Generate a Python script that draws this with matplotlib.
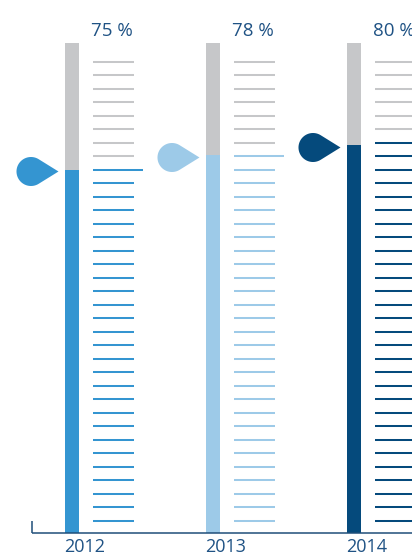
import numpy as np
import matplotlib
matplotlib.use("Agg")
import matplotlib.pyplot as plt
from matplotlib.path import Path

# ---- data ----
years = ["2012", "2013", "2014"]
values = [75, 78, 80]
value_labels = ["75 %", "78 %", "80 %"]

# ---- style ----
bar_colors = ["#3495d1", "#9dcae8", "#054a7c"]
grey = "#c6c7c9"
text_color = "#1f5284"
axis_color = "#1f4e79"

W, H, DPI = 412, 555, 100
fig = plt.figure(figsize=(W / DPI, H / DPI), dpi=DPI)

# axes spanning the figure; y: 0 at px 533, top of axes at px 43
y0_px, ytop_px = 533, 43
px_per_unit = 4.845
ax = fig.add_axes([0, (H - y0_px) / H, 1, (y0_px - ytop_px) / H])
step_px = 141.0
first_px = 71.7
ax.set_xlim(-first_px / step_px, (W - first_px) / step_px)
ax.set_ylim(0, (y0_px - ytop_px) / px_per_unit)
ax.axis("off")
px = 1.0 / step_px       # one pixel in x data units
py = 1.0 / px_per_unit   # one pixel in y data units
ytop = ax.get_ylim()[1]

x = np.arange(len(years))
bw = 14 * px

# grey full-height bars and coloured value bars
ax.bar(x, [ytop] * len(x), width=bw, color=grey, zorder=1)
ax.bar(x, values, width=bw, color=bar_colors, zorder=2)

# decorative scale lines
scale = np.linspace(2.54, 97.28, 35)
for xi, v, c in zip(x, values, bar_colors):
    coloured = scale[scale <= v + 1.0]
    top_line = coloured.max()
    for s in scale:
        col = c if s <= v + 1.0 else grey
        x1 = xi + 21 * px
        x2 = xi + (71 if s == top_line else 62) * px
        ax.plot([x1, x2], [s, s], color=col, lw=1.45, solid_capstyle="butt", zorder=2)

# droplet marker (tip at origin, pointing right)
d, r = 27.5, 14.5
th = np.arccos(r / d)
angles = np.linspace(th, 2 * np.pi - th, 60)
verts = [(0, 0)] + [(-d + r * np.cos(a), r * np.sin(a)) for a in angles] + [(0, 0)]
codes = [Path.MOVETO] + [Path.LINETO] * (len(verts) - 2) + [Path.CLOSEPOLY]
drop = Path(verts, codes)
ms = 2 * (d + r) * 72 / DPI
for xi, v, c in zip(x, values, bar_colors):
    ax.plot(xi - 13.5 * px, v - 1.8 * py, marker=drop, markersize=ms, color=c,
            markeredgewidth=0, linestyle="none", zorder=3, clip_on=False)

# labels
for xi, lab in zip(x, value_labels):
    ax.text(xi + 19.5 * px, (y0_px - 31.3) * py, lab, color=text_color, fontsize=13.5,
            family="Open Sans", ha="left", va="center", clip_on=False)
for xi, yr in zip(x, years):
    ax.text(xi - 7.5 * px, -(547.3 - y0_px) * py, yr, color=text_color, fontsize=13,
            family="Open Sans", ha="left", va="center", clip_on=False)

# baseline with small left tick
xl = (32 - first_px) / step_px
ax.plot([xl, ax.get_xlim()[1]], [0, 0], color=axis_color, lw=1.1, zorder=4,
        clip_on=False, solid_capstyle="butt")
ax.plot([xl, xl], [0, 12 * py], color=axis_color, lw=1.1, zorder=4,
        clip_on=False, solid_capstyle="butt")

fig.savefig("out.png", dpi=DPI)
